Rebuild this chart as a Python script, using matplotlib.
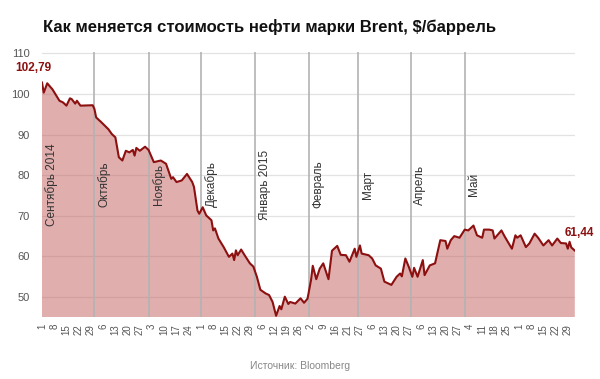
import matplotlib
matplotlib.use("Agg")
import matplotlib.pyplot as plt
import pandas as pd
import numpy as np

plt.rcParams['font.family'] = ['Liberation Sans', 'DejaVu Sans']

title = "Как меняется стоимость нефти марки Brent, $/баррель"
source = "Источник: Bloomberg"
start_date = "2014-09-01"

# days since 2014-09-01 and Brent price, $/barrel
day_offsets = [0, 1, 3, 6, 10, 12, 14, 16, 17, 19, 20, 22, 29, 30, 31, 34, 38, 40, 42, 44,
               46, 48, 50, 52, 53, 54, 56, 59, 61, 64, 68, 71, 74, 75, 77, 80, 83, 86, 87, 89,
               90, 92, 94, 97, 98, 99, 101, 104, 107, 109, 110, 111, 112, 114, 116, 119, 121, 123, 125, 128,
               130, 132, 134, 136, 137, 139, 141, 142, 145, 148, 150, 152, 154, 155, 157, 159, 161, 164, 166, 169,
               171, 174, 176, 179, 180, 182, 183, 187, 189, 191, 194, 196, 198, 200, 203, 205, 206, 208, 210, 212,
               213, 215, 218, 219, 222, 225, 228, 231, 232, 234, 236, 239, 242, 244, 247, 249, 252, 253, 256, 258,
               259, 263, 265, 269, 271, 272, 274, 277, 279, 282, 284, 287, 290, 292, 295, 297, 300, 301, 302, 303,
               305]
prices = [102.79, 100.3, 102.6, 101.1, 98.3, 97.9, 97.1, 98.9, 98.7, 97.6, 98.3, 97.1, 97.2, 96.3, 94.2, 93.0, 91.3, 90.1, 89.3, 84.4,
          83.6, 86.0, 85.6, 86.2, 84.8, 86.7, 86.0, 87.0, 86.2, 83.2, 83.6, 82.8, 79.1, 79.5, 78.3, 78.7, 80.3, 78.3, 77.1, 71.3,
          70.5, 72.1, 70.1, 68.9, 66.4, 66.9, 64.4, 62.3, 59.9, 60.7, 59.1, 61.5, 60.3, 61.7, 60.3, 58.3, 57.5, 55.0, 51.8, 50.9,
          50.5, 48.8, 45.4, 47.8, 47.0, 50.1, 48.3, 48.8, 48.4, 49.7, 48.6, 49.6, 54.2, 57.7, 54.4, 57.0, 58.3, 54.4, 61.4, 62.6,
          60.4, 60.3, 58.7, 61.9, 59.9, 62.7, 60.7, 60.3, 59.5, 57.8, 57.0, 53.8, 53.4, 53.0, 55.0, 55.8, 55.1, 59.5, 57.4, 55.0,
          57.2, 55.0, 59.1, 55.4, 57.8, 58.3, 64.0, 63.8, 61.9, 64.0, 65.0, 64.6, 66.6, 66.4, 67.6, 65.2, 64.6, 66.6, 66.6, 66.4,
          64.4, 66.4, 64.8, 61.9, 65.2, 64.6, 65.2, 62.3, 63.2, 65.6, 64.6, 62.7, 64.0, 62.7, 64.4, 63.3, 63.2, 61.9, 63.6, 62.2,
          61.44]

tick_labels = ["1", "8", "15", "22", "29", "6", "13", "20", "27", "3", "10", "17", "24",
               "1", "8", "15", "22", "29", "6", "12", "19", "26", "2", "9", "16", "21", "27",
               "6", "13", "20", "27", "6", "13", "20", "27", "4", "11", "18", "25",
               "1", "8", "15", "22", "29"]

month_labels = ["Сентябрь 2014", "Октябрь", "Ноябрь", "Декабрь", "Январь 2015",
                "Февраль", "Март", "Апрель", "Май"]
month_dates = ["2014-09-01", "2014-10-01", "2014-11-01", "2014-12-01", "2015-01-01",
               "2015-02-01", "2015-03-01", "2015-03-31", "2015-05-01"]

y_ticks = [50, 60, 70, 80, 90, 100, 110]

start = pd.Timestamp(start_date)
dates = start + pd.to_timedelta(day_offsets, unit="D")
tick_pos = [start + pd.Timedelta(days=7 * i) for i in range(len(tick_labels))]
mdates = pd.to_datetime(month_dates)

fig = plt.figure(figsize=(6.0, 3.79), dpi=100)
ax = fig.add_axes([0.07, 0.1636, 0.888, 0.6992])

line_color = "#8c1010"
ax.fill_between(dates, prices, 0, color="#c45f5f", alpha=0.5, linewidth=0, zorder=2)
ax.plot(dates, prices, color=line_color, linewidth=1.5, zorder=4)

ax.set_xlim(dates[0], dates[-1])
ax.set_ylim(45.1, 110.3)

ax.set_yticks(y_ticks)
ax.set_yticklabels([str(v) for v in y_ticks], fontsize=8, color="#555555")
ax.yaxis.grid(True, color="#e2e2e2", linewidth=0.9, zorder=1)
ax.set_axisbelow(True)

ax.set_xticks(tick_pos)
ax.set_xticklabels(tick_labels, rotation=90, fontsize=7, color="#555555")
ax.tick_params(axis="both", length=0)
ax.tick_params(axis="y", pad=9)
ax.tick_params(axis="x", pad=5)

for s in ax.spines.values():
    s.set_visible(False)

for i, (d, lab) in enumerate(zip(mdates, month_labels)):
    if i > 0:
        ax.axvline(d, color="#b3b3b3", linewidth=1.2, zorder=3)
    ax.annotate(lab, xy=(d, 0.5), xycoords=("data", "axes fraction"),
                xytext=(2.5, 0), textcoords="offset points", rotation=90,
                ha="left", va="center", fontsize=8.5, color="#333333", zorder=5)

ax.annotate("102,79", xy=(dates[0], prices[0]), xytext=(-6, 6), textcoords="offset points",
            ha="center", va="bottom", fontsize=8.5, fontweight="bold", color=line_color,
            annotation_clip=False)
ax.annotate("61,44", xy=(dates[-1], prices[-1]), xytext=(3, 8), textcoords="offset points",
            ha="center", va="bottom", fontsize=8.5, fontweight="bold", color=line_color,
            annotation_clip=False)

fig.text(43 / 600, 1 - 27 / 379, title, fontsize=12, fontweight="bold", color="#111111",
         ha="left", va="center")
fig.text(300 / 600, 1 - 366 / 379, source, fontsize=7.5, color="#888888",
         ha="center", va="center")

fig.savefig("out.png", dpi=100)
